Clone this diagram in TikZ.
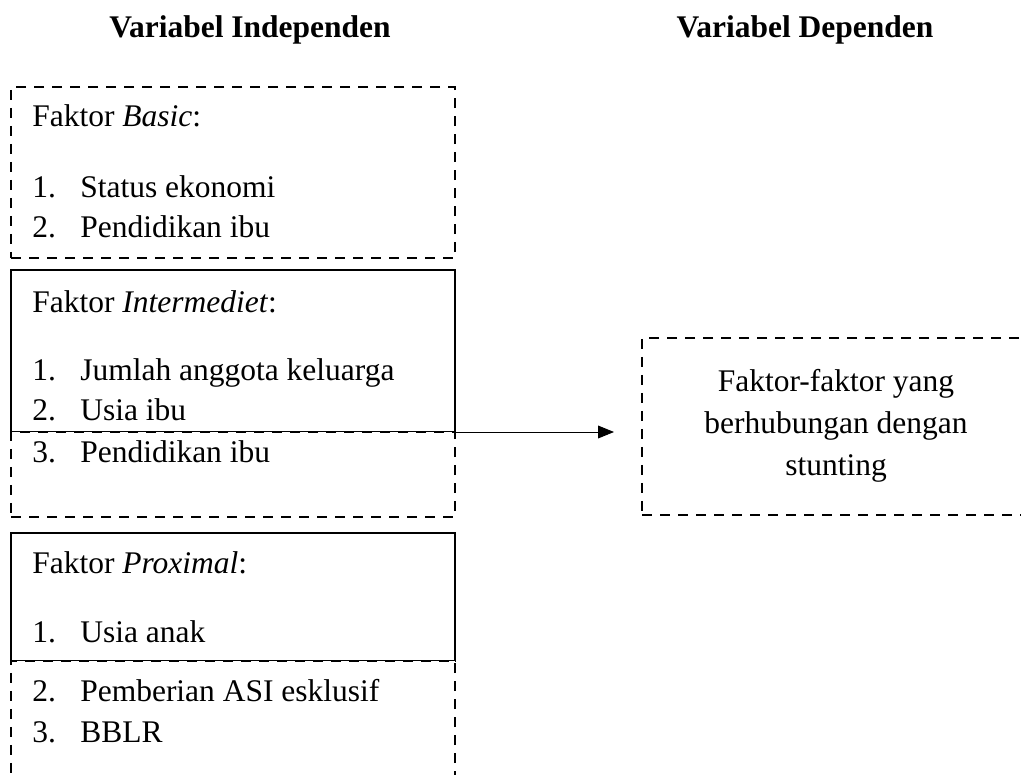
\documentclass[tikz,border=0pt]{standalone}
\usepackage{fontspec}
\setmainfont{Liberation Serif}
\usetikzlibrary{arrows.meta, positioning}

\tikzset{
    boxbase/.style={draw, minimum width=11.1cm, inner sep=0pt, outer sep=0pt, anchor=north west},
    solidbox/.style={boxbase, line width=1.9pt},
    dashbox/.style={boxbase, fill=white, line width=2.1pt, dash pattern=on 0.25cm off 0.2cm},
    txt/.style={anchor=base west, inner sep=0pt, font=\fontsize{22.4}{27}\selectfont},
    ctxt/.style={txt, anchor=base},
    head/.style={ctxt, font=\fontsize{22.4}{27}\selectfont\bfseries},
    arrow/.style={line width=0.7pt, -{Triangle[length=0.4cm, width=0.32cm]}}
}

\begin{document}
\begin{tikzpicture}
    \clip (0,0) rectangle (25.525,-19.375);

    % Headings
    \node[head] (indep) at (6.25,-0.95) {Variabel Independen};
    \node[head] (dep-title) at (20.125,-0.95) {Variabel Dependen};

    % Faktor basic
    \node[dashbox, minimum height=4.275cm] (basic) at (0.275,-2.175) {};
    \node[txt] (basic-title) at (0.8,-3.175) {Faktor \textit{Basic}:};
    \foreach \i/\y/\lbl in {1/-4.925/Status ekonomi, 2/-5.925/Pendidikan ibu} {
        \node[txt] (basic-n\i) at (0.8,\y) {\i.};
        \node[txt] (basic-\i) at (2.0,\y) {\lbl};
    }

    % Faktor intermediet
    \node[solidbox, minimum height=4.05cm] (inter) at (0.275,-6.75) {};
    \node[dashbox, minimum height=2.125cm] (inter-low) at (0.275,-10.8) {};
    \node[txt] (inter-title) at (0.8,-7.8) {Faktor \textit{Intermediet}:};
    \foreach \i/\y/\lbl in {1/-9.5/Jumlah anggota keluarga, 2/-10.5/Usia ibu, 3/-11.55/Pendidikan ibu} {
        \node[txt] (inter-n\i) at (0.8,\y) {\i.};
        \node[txt] (inter-\i) at (2.0,\y) {\lbl};
    }

    % Faktor proximal
    \node[solidbox, minimum height=3.2cm] (prox) at (0.275,-13.325) {};
    \node[dashbox, minimum height=3.6cm] (prox-low) at (0.275,-16.525) {};
    \node[txt] (prox-title) at (0.8,-14.325) {Faktor \textit{Proximal}:};
    \foreach \i/\y/\lbl in {1/-16.05/Usia anak, 2/-17.525/Pemberian ASI esklusif, 3/-18.55/BBLR} {
        \node[txt] (prox-n\i) at (0.8,\y) {\i.};
        \node[txt] (prox-\i) at (2.0,\y) {\lbl};
    }

    % Variabel dependen
    \node[dashbox, minimum width=9.7cm, minimum height=4.425cm] (dep) at (16.05,-8.45) {};
    \node[ctxt] (dep-1) at (20.9,-9.775) {Faktor-faktor yang};
    \node[ctxt] (dep-2) at (20.9,-10.825) {berhubungan dengan};
    \node[ctxt] (dep-3) at (20.9,-11.875) {stunting};

    \draw[arrow, shorten >=0.7cm] (inter.south east) -- (dep.west |- inter.south east);
\end{tikzpicture}
\end{document}
